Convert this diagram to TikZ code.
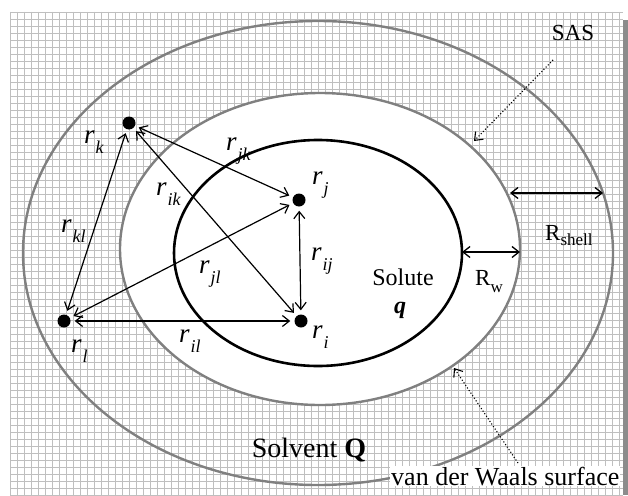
\documentclass[tikz,border=0pt]{standalone}
\usepackage{fontspec}
\setmainfont{Liberation Serif}
\usetikzlibrary{arrows.meta,shapes.geometric}
\newcommand\rsub[1]{{\fontsize{27}{27}\selectfont\itshape r}\kern1pt\raisebox{-10pt}{\fontsize{18}{18}\selectfont\itshape #1}}
\begin{document}
\begin{tikzpicture}[x=1pt,y=-1pt,
  gridline/.style={draw=black!25, line width=0.9pt},
  shellring/.style={ellipse, draw=black!50, line width=2.4pt, inner sep=0pt},
  corering/.style={ellipse, draw=black, line width=2.6pt, fill=white, inner sep=0pt},
  atom/.style={circle, fill=black, inner sep=0pt, minimum size=13pt},
  dist/.style={{Straight Barb[length=7pt,width=11pt]}-{Straight Barb[length=7pt,width=11pt]}, line width=1.2pt, shorten <=4pt, shorten >=4pt},
  meas/.style={{Straight Barb[length=7pt,width=11pt]}-{Straight Barb[length=7pt,width=11pt]}, line width=1.3pt},
  ptr/.style={-{Straight Barb[length=7pt,width=11pt]}, dotted, line width=1.1pt},
  rlab/.style={anchor=base west, inner sep=0pt},
  txt/.style={inner sep=0pt}
  ]
\useasboundingbox (0,0) rectangle (628,495);
\fill[white] (0,0) rectangle (628,495);
% grid background
\foreach \x in {10,17,...,622} \draw[gridline] (\x,12) -- (\x,495);
\foreach \y in {12,19,...,495} \draw[gridline] (10,\y) -- (623,\y);
\fill[black!45] (623,20) rectangle (628,495);
% surfaces
\node[shellring, minimum width=590pt, minimum height=464pt] (sas) at (318,253) {};
\node[shellring, fill=white, minimum width=400pt, minimum height=312pt] (vdw) at (320,249) {};
\node[corering, minimum width=288pt, minimum height=226pt] (solute) at (318,253) {};
% atoms
\node[atom] (k) at (129,123) {};
\node[atom] (j) at (299,200) {};
\node[atom] (l) at (64,321) {};
\node[atom] (i) at (301,321) {};
% distances
\draw[dist] (k) -- (j);
\draw[dist] (k) -- (i);
\draw[dist] (k) -- (l);
\draw[dist] (j) -- (l);
\draw[dist] (j) -- (i);
\draw[dist] (l) -- (i);
% labels
\node[rlab] (lk) at (84,143) {\rsub{k}};
\node[rlab] (ljk) at (226,150) {\rsub{jk}};
\node[rlab] (lj) at (312,184) {\rsub{j}};
\node[rlab] (lik) at (156,195) {\rsub{ik}};
\node[rlab] (lkl) at (61,232) {\rsub{kl}};
\node[rlab] (ljl) at (199,273) {\rsub{jl}};
\node[rlab] (lij) at (311,260) {\rsub{ij}};
\node[rlab] (lil) at (179,342) {\rsub{il}};
\node[rlab] (ll) at (71,352) {\rsub{l}};
\node[rlab] (li) at (312,338) {\rsub{i}};
% widths
\coordinate (rw1) at (462,252);
\coordinate (rw2) at (520,252);
\draw[meas] (rw1) -- (rw2);
\coordinate (rs1) at (510,193);
\coordinate (rs2) at (603,193);
\draw[meas] (rs1) -- (rs2);
\node[rlab] (rwlab) at (475,285) {\fontsize{23}{23}\selectfont R\raisebox{-7pt}{\fontsize{17}{17}\selectfont w}};
\node[rlab] (rslab) at (545,240) {\fontsize{23}{23}\selectfont R\raisebox{-5pt}{\fontsize{17}{17}\selectfont shell}};
% texts
\node[txt] (sastext) at (573,33) {\fontsize{23}{23}\selectfont SAS};
\node[txt] (solutetext) at (403,277) {\fontsize{24}{24}\selectfont Solute};
\node[txt] (qtext) at (400,310) {\fontsize{24}{24}\selectfont\bfseries\itshape q};
\node[anchor=base, inner sep=0pt] (solvtext) at (309,457) {\fontsize{28}{28}\selectfont Solvent \textbf{Q}};
\node[anchor=base west, inner sep=1pt, fill=white] (vdwtext) at (390,485) {\fontsize{26}{26}\selectfont van der Waals surface};
% pointers
\coordinate (sasfrom) at (553,60);
\coordinate (sasto) at (474,141);
\draw[ptr] (sasfrom) -- (sasto);
\coordinate (vdwfrom) at (518,463);
\coordinate (vdwto) at (454,368);
\draw[ptr] (vdwfrom) -- (vdwto);
\end{tikzpicture}
\end{document}
